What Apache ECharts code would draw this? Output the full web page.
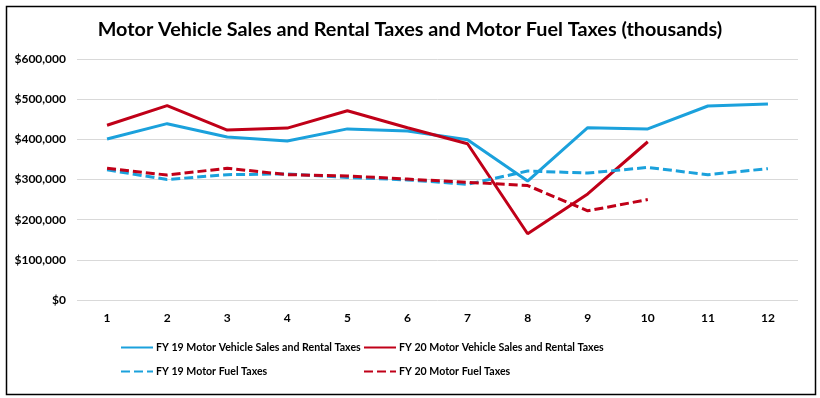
<!DOCTYPE html>
<html>
<head>
<meta charset="utf-8">
<script src="https://cdn.jsdelivr.net/npm/echarts@6/dist/echarts.min.js"></script>
<style>
html,body{margin:0;padding:0;background:#fff;}
#chart{width:820px;height:398px;}
</style>
</head>
<body>
<div id="chart"></div>
<script>
const months = ['1','2','3','4','5','6','7','8','9','10','11','12'];
const seriesNames = [
  'FY 19 Motor Vehicle Sales and Rental Taxes',
  'FY 20 Motor Vehicle Sales and Rental Taxes',
  'FY 19 Motor Fuel Taxes',
  'FY 20 Motor Fuel Taxes'
];
const fy19Vehicle = [401000, 439000, 406000, 396000, 426000, 421000, 399000, 296000, 429000, 426000, 483000, 488000];
const fy20Vehicle = [435000, 484000, 423000, 428000, 471000, 429000, 389000, 165000, 264000, 394000];
const fy19Fuel = [324000, 300000, 312000, 314000, 305000, 299000, 288000, 321000, 316000, 330000, 312000, 327000];
const fy20Fuel = [328000, 311000, 328000, 312000, 309000, 301000, 293000, 285000, 222000, 250000];
const yTicks = { min: 0, max: 600000, interval: 100000 };

const BLUE = '#1BA1DC';
const RED = '#C00018';
const FONT = 'Lato';

const chart = echarts.init(document.getElementById('chart'), null, { renderer: 'canvas' });

function fmt(v) {
  return '$' + v.toString().replace(/\B(?=(\d{3})+(?!\d))/g, ',');
}

function legendAt(name, left, top) {
  return {
    data: [name],
    left: left,
    top: top,
    orient: 'horizontal',
    itemWidth: 32,
    itemHeight: 12,
    itemGap: 0,
    padding: 0,
    itemStyle: { opacity: 0 },
    textStyle: { fontFamily: FONT, fontWeight: 'bold', fontSize: 10.6, color: '#000', padding: [0, 0, 0, -2] }
  };
}

const option = {
  animation: false,
  backgroundColor: '#fff',
  title: {
    text: 'Motor Vehicle Sales and Rental Taxes and Motor Fuel Taxes (thousands)',
    left: 'center',
    top: 15,
    textStyle: { fontFamily: FONT, fontWeight: 'bold', fontSize: 19.8, color: '#000' }
  },
  legend: [
    legendAt(seriesNames[0], 120, 342),
    legendAt(seriesNames[1], 363, 342),
    legendAt(seriesNames[2], 120, 366),
    legendAt(seriesNames[3], 363, 366)
  ],
  grid: { left: 77, right: 22, top: 59, bottom: 98, containLabel: false },
  xAxis: {
    type: 'category',
    data: months,
    boundaryGap: true,
    axisLine: { show: false },
    axisTick: { show: false },
    axisLabel: { fontFamily: FONT, fontWeight: 'bold', fontSize: 12, color: '#000', margin: 12 }
  },
  yAxis: {
    type: 'value',
    min: yTicks.min,
    max: yTicks.max,
    interval: yTicks.interval,
    axisLine: { show: false },
    axisTick: { show: false },
    splitLine: { lineStyle: { color: '#D9D9D9', width: 1 } },
    axisLabel: { fontFamily: FONT, fontWeight: 'bold', fontSize: 12, color: '#000', margin: 11, formatter: fmt }
  },
  graphic: [{
    type: 'rect',
    left: 4, top: 4,
    shape: { width: 809, height: 388 },
    style: { fill: 'none', stroke: '#000', lineWidth: 1.5 },
    silent: true
  }],
  series: [
    { name: seriesNames[0], type: 'line', data: fy19Vehicle, symbol: 'none', lineStyle: { color: BLUE, width: 3 }, itemStyle: { color: BLUE } },
    { name: seriesNames[1], type: 'line', data: fy20Vehicle, symbol: 'none', lineStyle: { color: RED, width: 3 }, itemStyle: { color: RED } },
    { name: seriesNames[2], type: 'line', data: fy19Fuel, symbol: 'none', lineStyle: { color: BLUE, width: 3, type: [9, 4] }, itemStyle: { color: BLUE } },
    { name: seriesNames[3], type: 'line', data: fy20Fuel, symbol: 'none', lineStyle: { color: RED, width: 3, type: [9, 4] }, itemStyle: { color: RED } }
  ]
};

chart.setOption(option);
</script>
</body>
</html>
